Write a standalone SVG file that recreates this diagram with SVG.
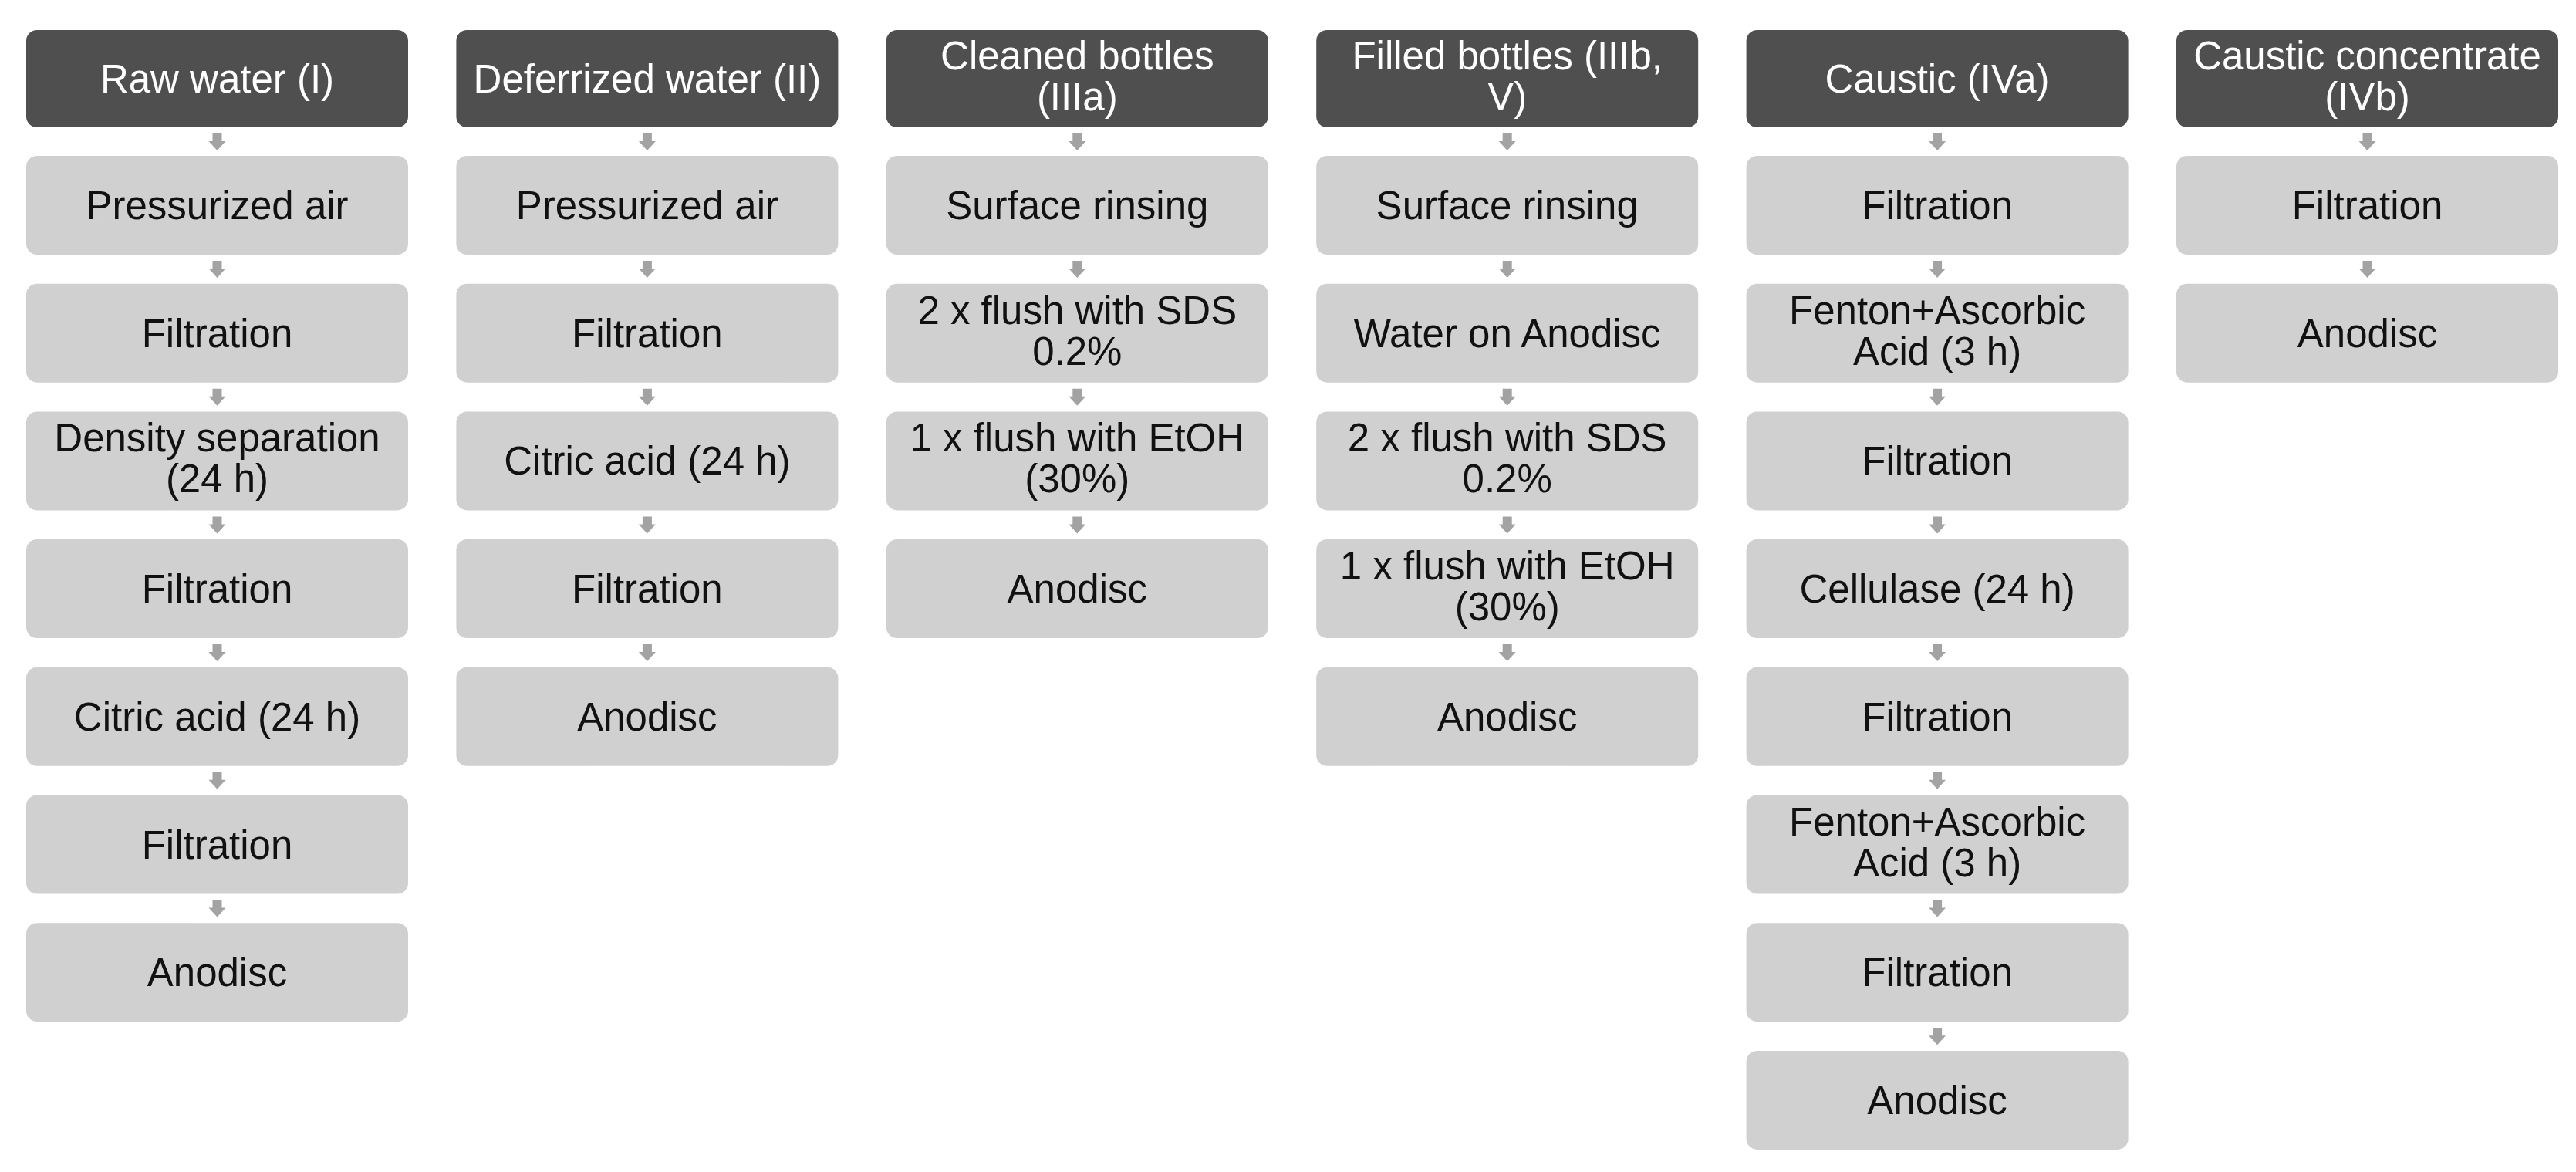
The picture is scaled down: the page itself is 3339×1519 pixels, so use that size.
<svg xmlns="http://www.w3.org/2000/svg" xmlns:xlink="http://www.w3.org/1999/xlink" width="3339" height="1519" viewBox="0 0 3339 1519">
<style>
.hd{fill:#4f4f4f}
.bx{fill:#d0d0d0}
.ht{fill:#ffffff;font-family:"Liberation Sans",Arial,sans-serif;font-size:51px;text-anchor:middle}
.bt{fill:#111111;font-family:"Liberation Sans",Arial,sans-serif;font-size:51px;text-anchor:middle}
.ar{fill:#a3a3a3}
</style>
<defs>
<path id="arr" d="M-6,0 h12 v10 h5 l-11,12 l-11,-12 h5 z"/>
</defs>
<rect width="3339" height="1519" fill="#ffffff"/>

<g id="col1">
<g id="n1_0"><rect class="hd" x="34" y="39" width="495" height="126" rx="14"/><text class="ht" x="281.5" y="120">Raw water (I)</text></g>
<g id="n1_1"><rect class="bx" x="34" y="202" width="495" height="128" rx="14"/><text class="bt" x="281.5" y="284">Pressurized air</text></g>
<g id="n1_2"><rect class="bx" x="34" y="367.7" width="495" height="128" rx="14"/><text class="bt" x="281.5" y="449.7">Filtration</text></g>
<g id="n1_3"><rect class="bx" x="34" y="533.4" width="495" height="128" rx="14"/><text class="bt" x="281.5" y="585.4">Density separation</text><text class="bt" x="281.5" y="638.4">(24 h)</text></g>
<g id="n1_4"><rect class="bx" x="34" y="699.1" width="495" height="128" rx="14"/><text class="bt" x="281.5" y="781.1">Filtration</text></g>
<g id="n1_5"><rect class="bx" x="34" y="864.8" width="495" height="128" rx="14"/><text class="bt" x="281.5" y="946.8">Citric acid (24 h)</text></g>
<g id="n1_6"><rect class="bx" x="34" y="1030.5" width="495" height="128" rx="14"/><text class="bt" x="281.5" y="1112.5">Filtration</text></g>
<g id="n1_7"><rect class="bx" x="34" y="1196.2" width="495" height="128" rx="14"/><text class="bt" x="281.5" y="1278.2">Anodisc</text></g>
</g>

<g id="col2">
<g id="n2_0"><rect class="hd" x="591.4" y="39" width="495" height="126" rx="14"/><text class="ht" x="838.9" y="120">Deferrized water (II)</text></g>
<g id="n2_1"><rect class="bx" x="591.4" y="202" width="495" height="128" rx="14"/><text class="bt" x="838.9" y="284">Pressurized air</text></g>
<g id="n2_2"><rect class="bx" x="591.4" y="367.7" width="495" height="128" rx="14"/><text class="bt" x="838.9" y="449.7">Filtration</text></g>
<g id="n2_3"><rect class="bx" x="591.4" y="533.4" width="495" height="128" rx="14"/><text class="bt" x="838.9" y="615.4">Citric acid (24 h)</text></g>
<g id="n2_4"><rect class="bx" x="591.4" y="699.1" width="495" height="128" rx="14"/><text class="bt" x="838.9" y="781.1">Filtration</text></g>
<g id="n2_5"><rect class="bx" x="591.4" y="864.8" width="495" height="128" rx="14"/><text class="bt" x="838.9" y="946.8">Anodisc</text></g>
</g>

<g id="col3">
<g id="n3_0"><rect class="hd" x="1148.8" y="39" width="495" height="126" rx="14"/><text class="ht" x="1396.3" y="90">Cleaned bottles</text><text class="ht" x="1396.3" y="143">(IIIa)</text></g>
<g id="n3_1"><rect class="bx" x="1148.8" y="202" width="495" height="128" rx="14"/><text class="bt" x="1396.3" y="284">Surface rinsing</text></g>
<g id="n3_2"><rect class="bx" x="1148.8" y="367.7" width="495" height="128" rx="14"/><text class="bt" x="1396.3" y="419.7">2 x flush with SDS</text><text class="bt" x="1396.3" y="472.7">0.2%</text></g>
<g id="n3_3"><rect class="bx" x="1148.8" y="533.4" width="495" height="128" rx="14"/><text class="bt" x="1396.3" y="585.4">1 x flush with EtOH</text><text class="bt" x="1396.3" y="638.4">(30%)</text></g>
<g id="n3_4"><rect class="bx" x="1148.8" y="699.1" width="495" height="128" rx="14"/><text class="bt" x="1396.3" y="781.1">Anodisc</text></g>
</g>

<g id="col4">
<g id="n4_0"><rect class="hd" x="1706.2" y="39" width="495" height="126" rx="14"/><text class="ht" x="1953.7" y="90">Filled bottles (IIIb,</text><text class="ht" x="1953.7" y="143">V)</text></g>
<g id="n4_1"><rect class="bx" x="1706.2" y="202" width="495" height="128" rx="14"/><text class="bt" x="1953.7" y="284">Surface rinsing</text></g>
<g id="n4_2"><rect class="bx" x="1706.2" y="367.7" width="495" height="128" rx="14"/><text class="bt" x="1953.7" y="449.7">Water on Anodisc</text></g>
<g id="n4_3"><rect class="bx" x="1706.2" y="533.4" width="495" height="128" rx="14"/><text class="bt" x="1953.7" y="585.4">2 x flush with SDS</text><text class="bt" x="1953.7" y="638.4">0.2%</text></g>
<g id="n4_4"><rect class="bx" x="1706.2" y="699.1" width="495" height="128" rx="14"/><text class="bt" x="1953.7" y="751.1">1 x flush with EtOH</text><text class="bt" x="1953.7" y="804.1">(30%)</text></g>
<g id="n4_5"><rect class="bx" x="1706.2" y="864.8" width="495" height="128" rx="14"/><text class="bt" x="1953.7" y="946.8">Anodisc</text></g>
</g>

<g id="col5">
<g id="n5_0"><rect class="hd" x="2263.6" y="39" width="495" height="126" rx="14"/><text class="ht" x="2511.1" y="120">Caustic (IVa)</text></g>
<g id="n5_1"><rect class="bx" x="2263.6" y="202" width="495" height="128" rx="14"/><text class="bt" x="2511.1" y="284">Filtration</text></g>
<g id="n5_2"><rect class="bx" x="2263.6" y="367.7" width="495" height="128" rx="14"/><text class="bt" x="2511.1" y="419.7">Fenton+Ascorbic</text><text class="bt" x="2511.1" y="472.7">Acid (3 h)</text></g>
<g id="n5_3"><rect class="bx" x="2263.6" y="533.4" width="495" height="128" rx="14"/><text class="bt" x="2511.1" y="615.4">Filtration</text></g>
<g id="n5_4"><rect class="bx" x="2263.6" y="699.1" width="495" height="128" rx="14"/><text class="bt" x="2511.1" y="781.1">Cellulase (24 h)</text></g>
<g id="n5_5"><rect class="bx" x="2263.6" y="864.8" width="495" height="128" rx="14"/><text class="bt" x="2511.1" y="946.8">Filtration</text></g>
<g id="n5_6"><rect class="bx" x="2263.6" y="1030.5" width="495" height="128" rx="14"/><text class="bt" x="2511.1" y="1082.5">Fenton+Ascorbic</text><text class="bt" x="2511.1" y="1135.5">Acid (3 h)</text></g>
<g id="n5_7"><rect class="bx" x="2263.6" y="1196.2" width="495" height="128" rx="14"/><text class="bt" x="2511.1" y="1278.2">Filtration</text></g>
<g id="n5_8"><rect class="bx" x="2263.6" y="1361.9" width="495" height="128" rx="14"/><text class="bt" x="2511.1" y="1443.9">Anodisc</text></g>
</g>

<g id="col6">
<g id="n6_0"><rect class="hd" x="2821" y="39" width="495" height="126" rx="14"/><text class="ht" x="3068.5" y="90">Caustic concentrate</text><text class="ht" x="3068.5" y="143">(IVb)</text></g>
<g id="n6_1"><rect class="bx" x="2821" y="202" width="495" height="128" rx="14"/><text class="bt" x="3068.5" y="284">Filtration</text></g>
<g id="n6_2"><rect class="bx" x="2821" y="367.7" width="495" height="128" rx="14"/><text class="bt" x="3068.5" y="449.7">Anodisc</text></g>
</g>

<g id="connectors" class="ar">
<use xlink:href="#arr" x="281.5" y="173"/>
<use xlink:href="#arr" x="281.5" y="338"/>
<use xlink:href="#arr" x="281.5" y="503.7"/>
<use xlink:href="#arr" x="281.5" y="669.4"/>
<use xlink:href="#arr" x="281.5" y="835.1"/>
<use xlink:href="#arr" x="281.5" y="1000.8"/>
<use xlink:href="#arr" x="281.5" y="1166.5"/>

<use xlink:href="#arr" x="838.9" y="173"/>
<use xlink:href="#arr" x="838.9" y="338"/>
<use xlink:href="#arr" x="838.9" y="503.7"/>
<use xlink:href="#arr" x="838.9" y="669.4"/>
<use xlink:href="#arr" x="838.9" y="835.1"/>

<use xlink:href="#arr" x="1396.3" y="173"/>
<use xlink:href="#arr" x="1396.3" y="338"/>
<use xlink:href="#arr" x="1396.3" y="503.7"/>
<use xlink:href="#arr" x="1396.3" y="669.4"/>

<use xlink:href="#arr" x="1953.7" y="173"/>
<use xlink:href="#arr" x="1953.7" y="338"/>
<use xlink:href="#arr" x="1953.7" y="503.7"/>
<use xlink:href="#arr" x="1953.7" y="669.4"/>
<use xlink:href="#arr" x="1953.7" y="835.1"/>

<use xlink:href="#arr" x="2511.1" y="173"/>
<use xlink:href="#arr" x="2511.1" y="338"/>
<use xlink:href="#arr" x="2511.1" y="503.7"/>
<use xlink:href="#arr" x="2511.1" y="669.4"/>
<use xlink:href="#arr" x="2511.1" y="835.1"/>
<use xlink:href="#arr" x="2511.1" y="1000.8"/>
<use xlink:href="#arr" x="2511.1" y="1166.5"/>
<use xlink:href="#arr" x="2511.1" y="1332.2"/>

<use xlink:href="#arr" x="3068.5" y="173"/>
<use xlink:href="#arr" x="3068.5" y="338"/>
</g>
</svg>
